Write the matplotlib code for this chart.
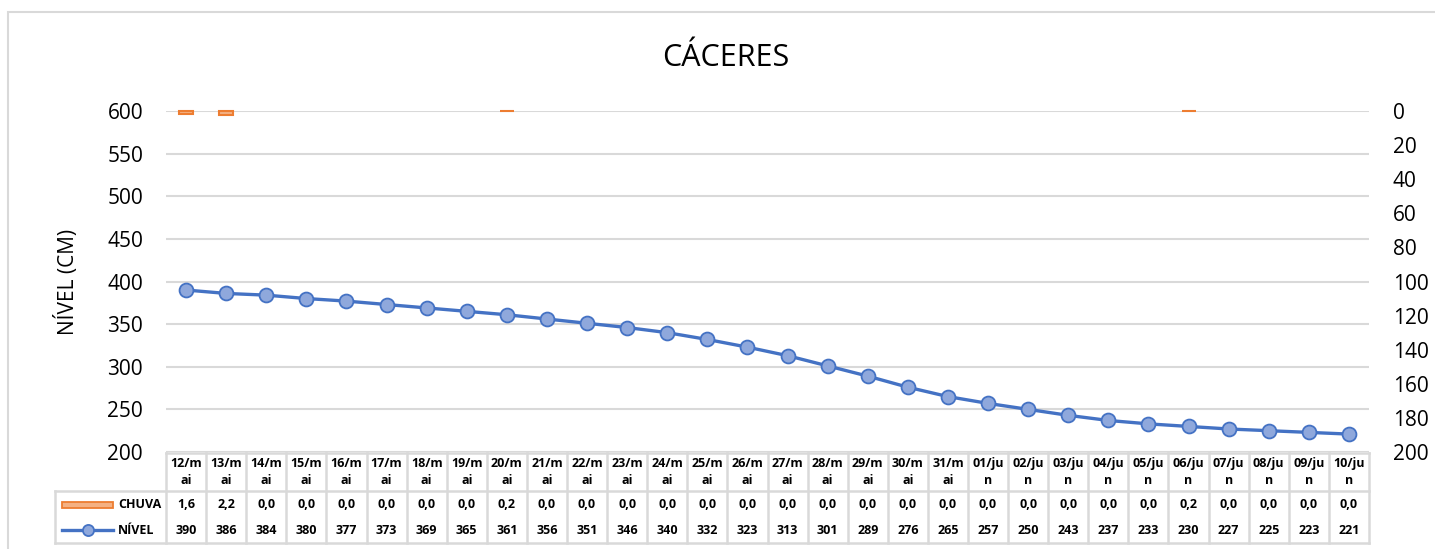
import numpy as np
import matplotlib.pyplot as plt
from matplotlib.patches import Rectangle
from matplotlib.lines import Line2D

plt.rcParams['font.family'] = ['Open Sans', 'DejaVu Sans']

# dados
datas = ['12/mai', '13/mai', '14/mai', '15/mai', '16/mai', '17/mai', '18/mai', '19/mai',
         '20/mai', '21/mai', '22/mai', '23/mai', '24/mai', '25/mai', '26/mai', '27/mai',
         '28/mai', '29/mai', '30/mai', '31/mai', '01/jun', '02/jun', '03/jun', '04/jun',
         '05/jun', '06/jun', '07/jun', '08/jun', '09/jun', '10/jun']
nivel = [390, 386, 384, 380, 377, 373, 369, 365, 361, 356, 351, 346, 340, 332, 323,
         313, 301, 289, 276, 265, 257, 250, 243, 237, 233, 230, 227, 225, 223, 221]
chuva = [1.6, 2.2, 0.0, 0.0, 0.0, 0.0, 0.0, 0.0, 0.2, 0.0, 0.0, 0.0, 0.0, 0.0, 0.0,
         0.0, 0.0, 0.0, 0.0, 0.0, 0.0, 0.0, 0.0, 0.0, 0.0, 0.2, 0.0, 0.0, 0.0, 0.0]

W, H = 1435, 549
azul = '#4472C4'
azul_claro = '#8FA8DC'
laranja = '#ED7D31'
laranja_claro = '#F4B183'
cinza = '#D9D9D9'

fig = plt.figure(figsize=(W / 100, H / 100), dpi=100)

# borda do grafico
fig.patches.append(Rectangle((8 / W, -0.1), 2, 1 - 12 / H + 0.1, transform=fig.transFigure,
                             fill=False, edgecolor=cinza, linewidth=1.5))

x0, x1 = 166, 1369
ytop, ybot = 111, 452
ax = fig.add_axes([x0 / W, 1 - ybot / H, (x1 - x0) / W, (ybot - ytop) / H])
x = np.arange(len(datas))

ax.plot(x, nivel, color=azul, linewidth=2.4, marker='o', markersize=10,
        markerfacecolor=azul_claro, markeredgecolor=azul, markeredgewidth=1.3, zorder=3)
ax.set_xlim(-0.5, len(datas) - 0.5)
ax.set_ylim(200, 600)
ax.set_yticks(np.arange(200, 601, 50))
ax.set_xticks([])
ax.grid(axis='y', color=cinza, linewidth=1.5)
ax.set_axisbelow(True)
for s in ax.spines.values():
    s.set_visible(False)
ax.tick_params(axis='y', length=0, pad=16.5, labelsize=15)
ax.set_ylabel('NÍVEL (CM)', fontsize=15, labelpad=20)

ax2 = ax.twinx()
bordas = [laranja if c > 0 else 'none' for c in chuva]
barras = ax2.bar(x, chuva, width=0.35, color=laranja_claro, edgecolor=bordas,
                 linewidth=1.5, zorder=2)
for b in barras:
    b.set_clip_on(False)
ax2.set_ylim(200, 0)
ax2.set_yticks(np.arange(0, 201, 20))
for s in ax2.spines.values():
    s.set_visible(False)
ax2.tick_params(axis='y', length=0, pad=17, labelsize=15)

fig.text(726 / W, 1 - 58 / H, 'CÁCERES', fontsize=22, ha='center', va='center')

# tabela de dados
tb = fig.add_axes([x0 / W, 1 - 543 / H, (x1 - x0) / W, (543 - 453) / H])
tb.set_xlim(-0.5, len(datas) - 0.5)
tb.set_ylim(543, 453)
tb.axis('off')
lw = 1.8
tb.plot([-0.5, len(datas) - 0.5], [453, 453], color=cinza, lw=lw, clip_on=False)
leg_x = -0.5 - (x0 - 55) / ((x1 - x0) / len(datas))
tb.plot([leg_x, len(datas) - 0.5], [491, 491], color=cinza, lw=lw, clip_on=False)
tb.plot([leg_x, len(datas) - 0.5], [543, 543], color=cinza, lw=lw, clip_on=False)
for i in range(len(datas) + 1):
    tb.plot([i - 0.5, i - 0.5], [453, 543], color=cinza, lw=lw, clip_on=False)
tb.plot([leg_x, leg_x], [491, 543], color=cinza, lw=lw, clip_on=False)

fs = 9
for i, d in enumerate(datas):
    corte = 5 if d.endswith('jun') else 4
    tb.text(i, 472, d[:corte] + '\n' + d[corte:], ha='center', va='center', fontsize=fs,
            fontweight='bold', linespacing=1.45)
    tb.text(i, 505, f'{chuva[i]:.1f}'.replace('.', ','), ha='center', va='center',
            fontsize=fs, fontweight='bold')
    tb.text(i, 530, str(nivel[i]), ha='center', va='center', fontsize=fs, fontweight='bold')

# legenda dentro da tabela
cw = (x1 - x0) / len(datas)
def px(p):
    return -0.5 + (p - x0) / cw

tb.add_patch(Rectangle((px(62), 502), px(113) - px(62), 6, facecolor=laranja_claro,
                       edgecolor=laranja, linewidth=1.3, clip_on=False))
tb.add_line(Line2D([px(62), px(113)], [530, 530], color=azul, linewidth=2.4, clip_on=False))
tb.add_line(Line2D([px(87.5)], [530], marker='o', markersize=8, markerfacecolor=azul_claro,
                   markeredgecolor=azul, markeredgewidth=1.3, clip_on=False))
tb.text(px(118), 505, 'CHUVA', ha='left', va='center', fontsize=fs, fontweight='bold')
tb.text(px(118), 530, 'NÍVEL', ha='left', va='center', fontsize=fs, fontweight='bold')

fig.savefig('out.png', dpi=100)
